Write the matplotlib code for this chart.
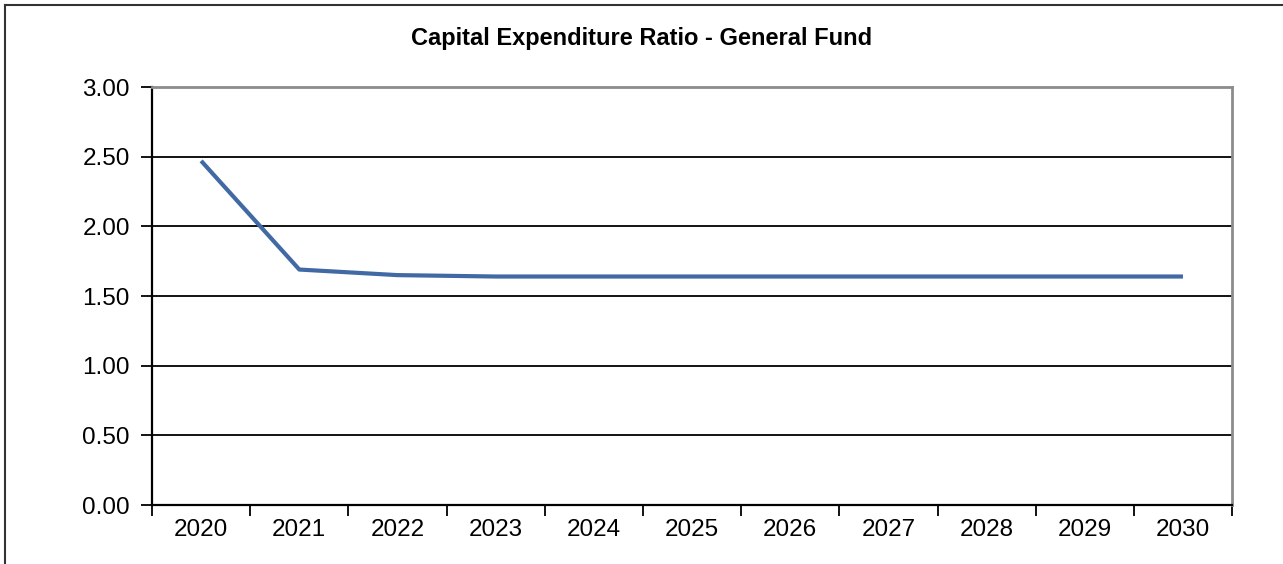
import numpy as np
import matplotlib.pyplot as plt
from matplotlib.lines import Line2D

plt.rcParams['font.family'] = ['Liberation Sans', 'DejaVu Sans']

# 各年度の資本支出比率（一般会計）
years = ['2020', '2021', '2022', '2023', '2024', '2025', '2026', '2027', '2028', '2029', '2030']
ratio = [2.47, 1.69, 1.65, 1.64, 1.64, 1.64, 1.64, 1.64, 1.64, 1.64, 1.64]
yticks = [0.0, 0.5, 1.0, 1.5, 2.0, 2.5, 3.0]

fig = plt.figure(figsize=(12.83, 5.64), dpi=100)
ax = fig.add_axes([0.1185, 0.1046, 0.8418, 0.7411])

x = np.arange(len(years))
ax.plot(x, ratio, color='#4169a4', lw=3.0, solid_capstyle='butt', zorder=3)

ax.set_xlim(-0.5, len(years) - 0.5)
ax.set_ylim(0, 3)

# 横方向のグリッド線
ax.set_yticks(yticks)
ax.set_yticklabels([f"{v:.2f}" for v in yticks])
ax.grid(axis='y', color='black', lw=1.3, zorder=1)
ax.set_axisbelow(True)

# 目盛りは区間の境界、ラベルは区間の中央
ax.set_xticks(np.arange(-0.5, len(years)))
ax.set_xticklabels([])
ax.set_xticks(x, minor=True)
ax.set_xticklabels(years, minor=True)
ax.tick_params(axis='x', which='major', length=8, width=1.3, color='black', direction='out')
ax.tick_params(axis='x', which='minor', length=0, labelsize=17.5, pad=10)
ax.tick_params(axis='y', length=8, width=1.3, color='black', labelsize=17.5, pad=8)

for side in ['left', 'bottom']:
    ax.spines[side].set_color('black')
    ax.spines[side].set_linewidth(1.6)
for side in ['top', 'right']:
    ax.spines[side].set_color('#8c8c8c')
    ax.spines[side].set_linewidth(2.0)

fig.text(0.5, 0.931, 'Capital Expenditure Ratio - General Fund',
         ha='center', va='center', fontsize=17, fontweight='bold')

# 外枠
fig.add_artist(Line2D([5 / 1283, 5 / 1283], [0, 1 - 5 / 564], color='#333333', lw=1.5))
fig.add_artist(Line2D([5 / 1283, 1], [1 - 5 / 564, 1 - 5 / 564], color='#333333', lw=1.5))

fig.savefig('out.png', dpi=100)
